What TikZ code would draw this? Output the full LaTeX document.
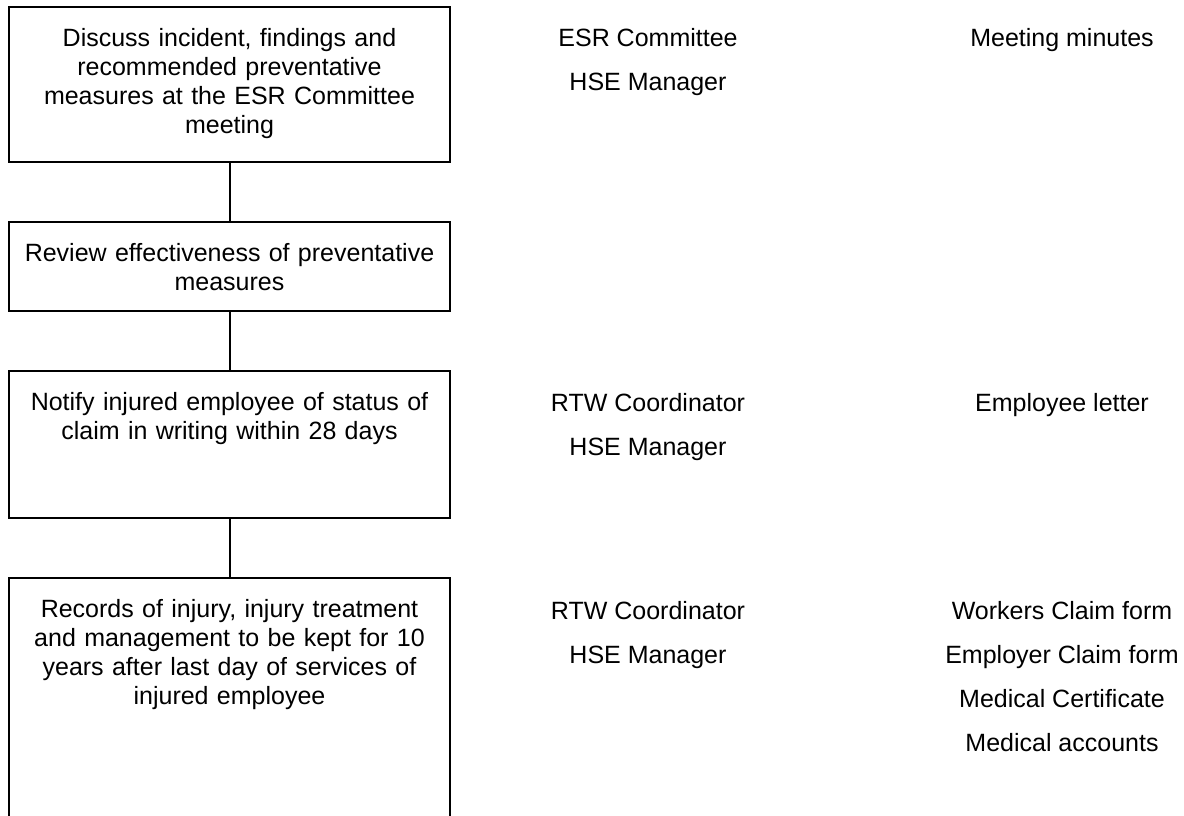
\documentclass[tikz,border=0pt]{standalone}
\usepackage{fontspec}
\setmainfont{Liberation Sans}
\usetikzlibrary{positioning, calc}

\tikzset{
  stepbox/.style={draw, line width=1pt, inner sep=0pt, outer sep=0pt, minimum width=220.5pt},
  steptext/.style={inner sep=0pt, outer sep=0pt, text width=215pt, align=center,
    font=\fontsize{12.5pt}{14.5pt}\selectfont},
  roletext/.style={anchor=base, inner sep=0pt, outer sep=0pt,
    font=\fontsize{12.5pt}{14.5pt}\selectfont},
  link/.style={line width=1pt}
}

\begin{document}
\begin{tikzpicture}[x=0.5pt, y=-0.5pt]
  \clip (0,0) rectangle (1184,815);

  % process steps
  \node[stepbox, minimum height=77.5pt] (b1) at (229.5,84.5) {};
  \node[stepbox, minimum height=44.5pt, below=30pt of b1] (b2) {};
  \node[stepbox, minimum height=73.5pt, below=30pt of b2] (b3) {};
  \node[stepbox, minimum height=130pt, below=30pt of b3] (b4) {};

  \node[steptext, below=10.5pt of b1.north] (t1) {Discuss incident, findings and\\
    recommended preventative\\ measures at the ESR Committee\\ meeting};
  \node[steptext, below=10.5pt of b2.north] (t2) {Review effectiveness of preventative\\ measures};
  \node[steptext, below=10.5pt of b3.north] (t3) {Notify injured employee of status of\\
    claim in writing within 28 days};
  \node[steptext, below=10.5pt of b4.north] (t4) {Records of injury, injury treatment\\
    and management to be kept for 10\\ years after last day of services of\\ injured employee};

  \draw[link] (b1) -- (b2);
  \draw[link] (b2) -- (b3);
  \draw[link] (b3) -- (b4);

  % responsibility
  \node[roletext] (r1a) at (648,46) {ESR Committee};
  \node[roletext] (r1b) at (648,90) {HSE Manager};
  \node[roletext] (r3a) at (648,411) {RTW Coordinator};
  \node[roletext] (r3b) at (648,455) {HSE Manager};
  \node[roletext] (r4a) at (648,619) {RTW Coordinator};
  \node[roletext] (r4b) at (648,663) {HSE Manager};

  % records
  \node[roletext] (d1) at (1062,46) {Meeting minutes};
  \node[roletext] (d3) at (1062,411) {Employee letter};
  \node[roletext] (d4a) at (1062,619) {Workers Claim form};
  \node[roletext] (d4b) at (1062,663) {Employer Claim form};
  \node[roletext] (d4c) at (1062,707) {Medical Certificate};
  \node[roletext] (d4d) at (1062,751) {Medical accounts};
\end{tikzpicture}
\end{document}
